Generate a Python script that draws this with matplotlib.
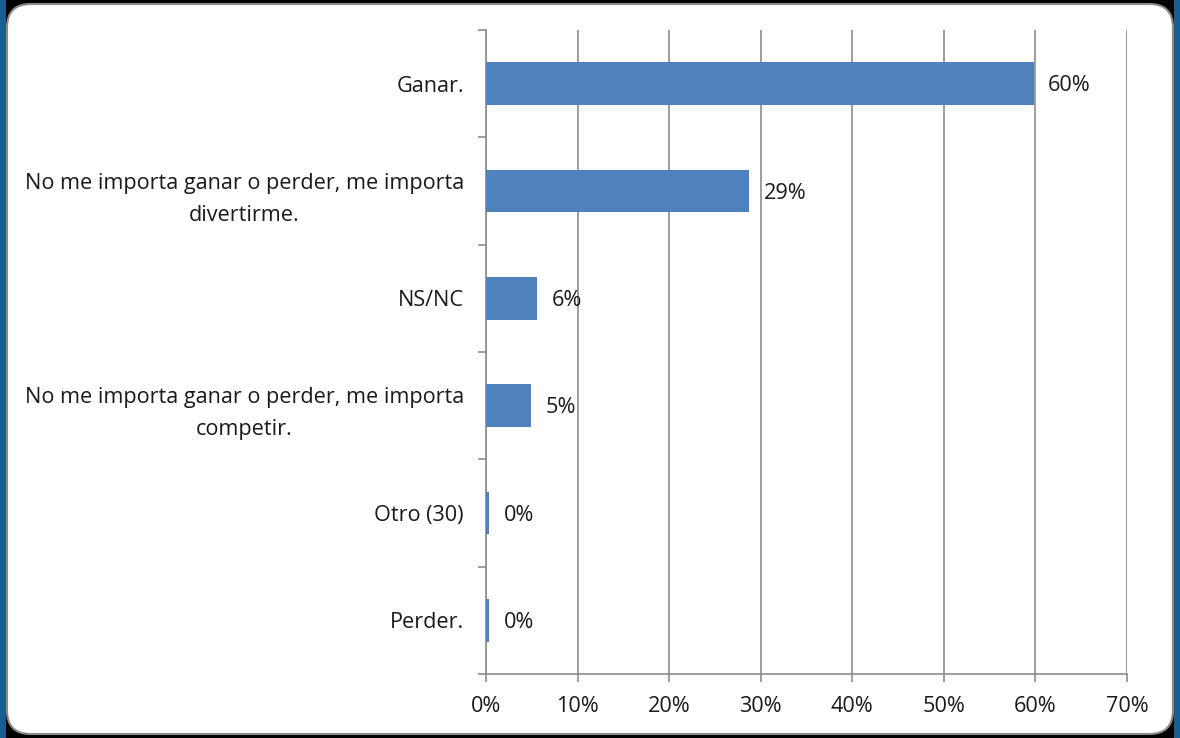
import matplotlib as mpl
import matplotlib.pyplot as plt
from matplotlib.patches import FancyBboxPatch, Rectangle
import numpy as np

mpl.rcParams['font.family'] = ['Open Sans', 'DejaVu Sans']

categories = [
    "Ganar.",
    "No me importa ganar o perder, me importa\ndivertirme.",
    "NS/NC",
    "No me importa ganar o perder, me importa\ncompetir.",
    "Otro (30)",
    "Perder.",
]
values = [59.8, 28.7, 5.6, 4.9, 0.3, 0.3]
value_labels = ["60%", "29%", "6%", "5%", "0%", "0%"]
xticks = [0, 10, 20, 30, 40, 50, 60, 70]

GRID = '#8c8c8c'
BAR = '#4f81bd'
TXT = '#1a1a1a'
FS = 15.6

W, H = 1180, 738
fig = plt.figure(figsize=(W / 100, H / 100), dpi=100, facecolor='black')

# frame: blue side strips, rounded white panel
fig.patches.append(Rectangle((0, 0), 6 / W, 1, transform=fig.transFigure,
                             facecolor='#1b5e8c', edgecolor='none', zorder=0))
fig.patches.append(Rectangle((1 - 6 / W, 0), 6 / W, 1, transform=fig.transFigure,
                             facecolor='#1b5e8c', edgecolor='none', zorder=0))
fig.patches.append(FancyBboxPatch((7 / W, 4 / H), 1 - 14 / W, 1 - 8 / H,
                                  boxstyle="round,pad=0,rounding_size=0.02",
                                  transform=fig.transFigure, facecolor='white',
                                  edgecolor='#8a8a8a', linewidth=1.5,
                                  mutation_aspect=W / H, zorder=1))

ax = fig.add_axes([486 / W, 1 - 674 / H, (1127 - 486) / W, (674 - 30) / H])
ax.set_zorder(2)
ax.patch.set_alpha(0)

y = np.arange(len(categories))
ax.barh(y, values, height=0.4, color=BAR, zorder=3)
ax.set_ylim(len(categories) - 0.5, -0.5)
ax.set_xlim(0, 70)

ax.set_xticks(xticks)
ax.set_xticklabels([f"{t}%" for t in xticks], fontsize=FS, color=TXT)
ax.set_yticks(y)
ax.set_yticklabels(categories, fontsize=FS, color=TXT, ha='right',
                   multialignment='center', linespacing=1.7)
ax.tick_params(axis='y', length=0, pad=16)
ax.set_yticks(np.arange(-0.5, len(categories), 1), minor=True)
ax.tick_params(axis='y', which='minor', length=6, color=GRID, width=1.2)
ax.tick_params(axis='x', length=6, color=GRID, width=1.2, pad=10)

ax.grid(axis='x', color=GRID, linewidth=1.2, zorder=0)
ax.set_axisbelow(True)
for side in ['top', 'right']:
    ax.spines[side].set_visible(False)
for side in ['left', 'bottom']:
    ax.spines[side].set_color(GRID)
    ax.spines[side].set_linewidth(1.2)

for yi, v, lab in zip(y, values, value_labels):
    ax.text(v + 1.6, yi + 0.02, lab, va='center', ha='left', fontsize=FS, color=TXT)

plt.savefig("out.png", dpi=100, facecolor=fig.get_facecolor())
